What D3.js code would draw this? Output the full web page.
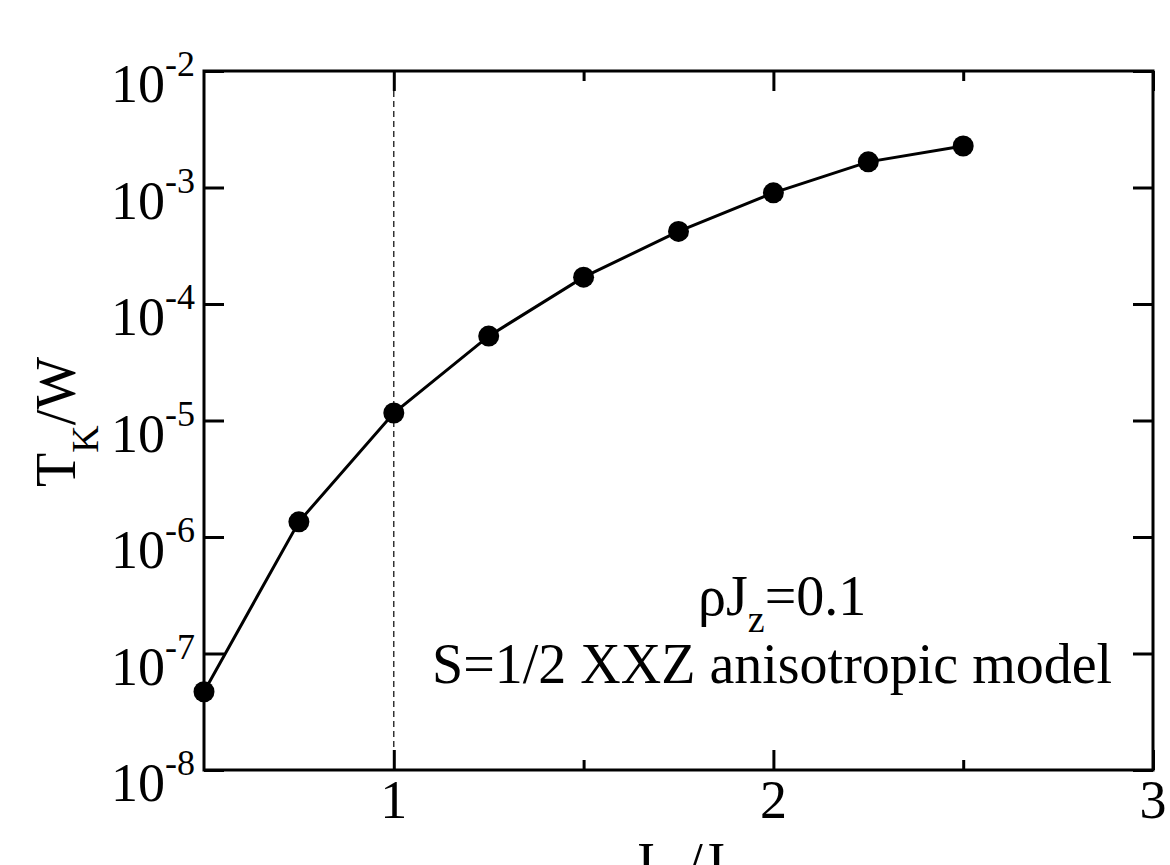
<!DOCTYPE html>
<html>
<head>
<meta charset="utf-8">
<script src="https://cdn.jsdelivr.net/npm/d3@7/dist/d3.min.js"></script>
<style>
	html, body { margin: 0; padding: 0; background: #fff; overflow: hidden; }
	text { font-family: "Liberation Serif", "Times New Roman", serif; fill: #000; }
</style>
</head>
<body>
<svg id="chart" width="1170" height="865"></svg>
<script>
// T_K/W versus J_perp/J
const jPerp = [0.5, 0.75, 1.0, 1.25, 1.5, 1.75, 2.0, 2.25, 2.5];
const tkW = [4.7e-8, 1.35e-6, 1.16e-5, 5.3e-5, 1.7e-4, 4.2e-4, 9.0e-4, 1.66e-3, 2.27e-3];

const xDomain = [0.5, 3];
const yDomain = [1e-8, 1e-2];
const xMajor = [1, 2, 3];
const xMinor = [1.5, 2.5];
const yExps = [-8, -7, -6, -5, -4, -3, -2];
const dashAt = 1;

var margin = { top: 71, right: 17, bottom: 95, left: 204 },
	width = 1170 - margin.left - margin.right,
	height = 865 - margin.top - margin.bottom;

let svg = d3.select("#chart")
	.append("g")
	.attr("transform", "translate(" + margin.left + "," + margin.top + ")");

let x = d3.scaleLinear().domain(xDomain).range([0, width]);
let y = d3.scaleLog().domain(yDomain).range([height, 0]);

//dashed reference line at J_perp = J
svg.append("line")
	.attr("x1", x(dashAt)).attr("x2", x(dashAt))
	.attr("y1", 0).attr("y2", height)
	.attr("stroke", "#000")
	.attr("stroke-width", 1.2)
	.attr("stroke-dasharray", "6,4");

//ticks, all pointing inward
function tickAxis(axis, tx, ty){
	let g = svg.append("g").attr("transform", "translate(" + tx + "," + ty + ")").call(axis);
	g.select(".domain").remove();
	g.selectAll("text").remove();
	g.selectAll("line").attr("stroke", "#000").attr("stroke-width", 3);
	return g;
}
tickAxis(d3.axisBottom(x).tickValues(xMajor.concat(xMinor)).tickSize(-20), 0, height)
	.selectAll(".tick line").attr("y2", d => xMinor.indexOf(d) >= 0 ? -10 : -20);
tickAxis(d3.axisTop(x).tickValues(xMajor.concat(xMinor)).tickSize(-20), 0, 0)
	.selectAll(".tick line").attr("y2", d => xMinor.indexOf(d) >= 0 ? 10 : 20);
tickAxis(d3.axisLeft(y).tickValues(yExps.map(e => Math.pow(10, e))).tickSize(-20), 0, 0);
tickAxis(d3.axisRight(y).tickValues(yExps.map(e => Math.pow(10, e))).tickSize(-20), width, 0);

//frame
svg.append("rect")
	.attr("x", 0).attr("y", 0)
	.attr("width", width).attr("height", height)
	.attr("fill", "none")
	.attr("stroke", "#000")
	.attr("stroke-width", 3);

//x tick labels
svg.append("g")
	.selectAll("text")
	.data(xMajor)
	.enter()
	.append("text")
	.attr("x", d => x(d))
	.attr("y", height + 48)
	.style("text-anchor", "middle")
	.style("font-size", "54px")
	.text(d => d);

//y tick labels 10^n
let yl = svg.append("g")
	.selectAll("text")
	.data(yExps)
	.enter()
	.append("text")
	.attr("x", -9)
	.attr("y", d => y(Math.pow(10, d)) + 31)
	.style("text-anchor", "end")
	.style("font-size", "54px");
yl.append("tspan").text("10");
yl.append("tspan")
	.attr("dy", -26)
	.style("font-size", "36px")
	.text(d => "-" + Math.abs(d));

//connecting line
let line = d3.line()
	.x(d => x(d[0]))
	.y(d => y(d[1]));
svg.append("path")
	.datum(d3.zip(jPerp, tkW))
	.attr("d", line)
	.attr("fill", "none")
	.attr("stroke", "#000")
	.attr("stroke-width", 3);

//points
svg.append("g")
	.selectAll("circle")
	.data(d3.zip(jPerp, tkW))
	.enter()
	.append("circle")
	.attr("cx", d => x(d[0]))
	.attr("cy", d => y(d[1]))
	.attr("r", 10.5)
	.attr("fill", "#000");

//y axis title T_K/W
let yt = d3.select("#chart").append("text")
	.attr("transform", "translate(75,487) rotate(-90)")
	.style("font-size", "56px");
yt.append("tspan").text("T");
yt.append("tspan").attr("dy", 23).style("font-size", "38px").text("K");
yt.append("tspan").attr("dy", -23).text("/W");

//x axis title J_perp/J
let xt = d3.select("#chart").append("text")
	.attr("x", margin.left + width / 2)
	.attr("y", 882)
	.style("text-anchor", "middle")
	.style("font-size", "56px");
xt.append("tspan").text("J");
xt.append("tspan").attr("dy", 20).style("font-size", "38px").text("\u22a5");
xt.append("tspan").attr("dy", -20).text("/J");

//annotations
let a1 = d3.select("#chart").append("text")
	.attr("x", 698)
	.attr("y", 615)
	.style("font-size", "56px");
a1.append("tspan").text("\u03c1J");
a1.append("tspan").attr("dy", 17).style("font-size", "38px").text("z");
a1.append("tspan").attr("dy", -17).text("=0.1");

d3.select("#chart").append("text")
	.attr("x", 432)
	.attr("y", 683)
	.style("font-size", "56px")
	.text("S=1/2 XXZ anisotropic model");
</script>
</body>
</html>
